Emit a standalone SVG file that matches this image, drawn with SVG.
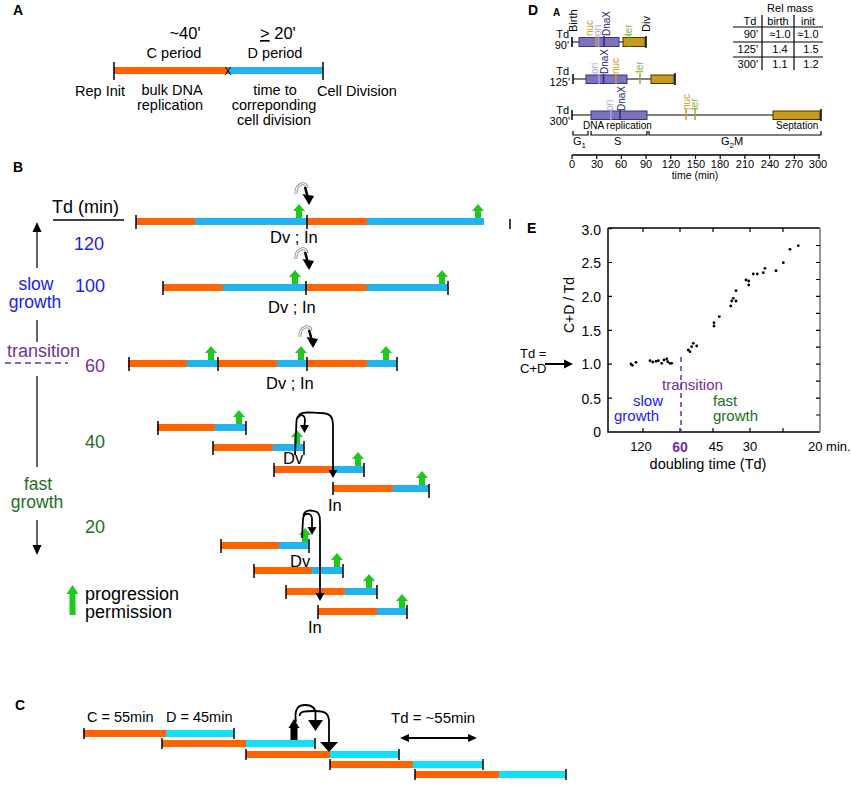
<svg xmlns="http://www.w3.org/2000/svg" width="851" height="786" viewBox="0 0 851 786">
<style>
text{font-family:"Liberation Sans",Arial,sans-serif;fill:#000}
.o{fill:#ff6400}
.b{fill:#22b4f0}
.c{fill:#12e0fa}
.tk{stroke:#000;stroke-width:1.5}
.lbl{font-weight:bold;font-size:14px}
.a{font-size:14.5px}
.bt{font-size:18px}
.dv{font-size:16.5px}
.blu{fill:#2020f0}
.grn{fill:#1e6e1e}
.pur{fill:#7030a0}
.ln{fill:none;stroke:#000;stroke-width:1.8}
.d{font-size:11px}
.mk{font-size:10px}
.pb{fill:#7b73c0;stroke:#3a3478;stroke-width:1}
.gb{fill:#c89a1a;stroke:#4a3500;stroke-width:1}
.e{font-size:14px}
.dot{fill:#000}
</style>
<defs>
<path id="ga" d="M-6 -7 L0 -14 L6 -7 L3 -7 L3 0 L-3 0 L-3 -7 Z" fill="#1ec81e"/>
<g id="curl">
<path d="M-13 -11 C-14 -21 -3 -25 -2 -17" fill="none" stroke="#888" stroke-width="3"/>
<path d="M-13 -11 C-14 -21 -3 -25 -2 -17" fill="none" stroke="#fff" stroke-width="1.2"/>
<path d="M-4 -18 L-1.5 -9" stroke="#000" stroke-width="2.5"/>
<polygon points="-6.5,-11 5,-9 0,0" fill="#000"/>
</g>
</defs>
<rect width="851" height="786" fill="#fff"/>

<!-- Panel A -->
<g id="panelA">
<text class="lbl" x="13" y="15">A</text>
<text x="185" y="39" font-size="16.5" text-anchor="middle">~40'</text>
<text x="260" y="39" font-size="16.5"><tspan text-decoration="underline">&gt;</tspan> 20'</text>
<text class="a" x="174" y="58" text-anchor="middle">C period</text>
<text class="a" x="275" y="58" text-anchor="middle">D period</text>
<rect class="o" x="114" y="67" width="114" height="7"/>
<rect class="b" x="228" y="67" width="95" height="7"/>
<line class="tk" x1="114" y1="62" x2="114" y2="80"/>
<line class="tk" x1="323" y1="62" x2="323" y2="80"/>
<text x="228" y="75" font-size="11" text-anchor="middle">X</text>
<text class="a" x="75" y="96">Rep Init</text>
<text class="a" x="172" y="95" text-anchor="middle">bulk DNA</text>
<text class="a" x="170" y="110" text-anchor="middle">replication</text>
<text class="a" x="275" y="95" text-anchor="middle">time to</text>
<text class="a" x="274" y="110" text-anchor="middle">correponding</text>
<text class="a" x="274" y="125" text-anchor="middle">cell division</text>
<text class="a" x="317" y="96">Cell Division</text>
</g>

<!-- Panel B -->
<g id="panelB-axis">
<text class="lbl" x="13" y="172">B</text>
<text class="bt" x="52" y="213">Td (min)</text>
<line x1="53" y1="220" x2="124" y2="220" stroke="#000" stroke-width="1.5"/>
<line x1="37" y1="230" x2="37" y2="268" stroke="#333" stroke-width="1.5"/>
<polygon points="37,222 32.5,232 41.5,232" fill="#000"/>
<line x1="37" y1="320" x2="37" y2="342" stroke="#333" stroke-width="1.5"/>
<line x1="37" y1="376" x2="37" y2="467" stroke="#333" stroke-width="1.5"/>
<line x1="37" y1="520" x2="37" y2="547" stroke="#333" stroke-width="1.5"/>
<polygon points="37,555 32.5,545 41.5,545" fill="#000"/>
<text class="bt blu" x="104" y="250" text-anchor="end">120</text>
<text class="bt blu" x="105" y="292" text-anchor="end">100</text>
<text class="blu" font-size="17.5" x="36" y="290" text-anchor="middle">slow</text>
<text class="blu" font-size="17.5" x="35" y="308" text-anchor="middle">growth</text>
<text class="bt pur" x="7" y="357">transition</text>
<line x1="5" y1="363" x2="68" y2="363" stroke="#7030a0" stroke-width="1.5" stroke-dasharray="6,4"/>
<text class="bt pur" x="105" y="372" text-anchor="end">60</text>
<text class="bt grn" x="105" y="448" text-anchor="end">40</text>
<text class="grn" font-size="17.5" x="38" y="490" text-anchor="middle">fast</text>
<text class="grn" font-size="17.5" x="37" y="508" text-anchor="middle">growth</text>
<text class="bt grn" x="105" y="533" text-anchor="end">20</text>
</g>

<g id="rowB120">
<rect class="o" x="136" y="218" width="59" height="7"/>
<rect class="b" x="195" y="218" width="112" height="7"/>
<rect class="o" x="307" y="218" width="60" height="7"/>
<rect class="b" x="367" y="218" width="117" height="7"/>
<line class="tk" x1="136" y1="215" x2="136" y2="229"/>
<line class="tk" x1="307" y1="215" x2="307" y2="229"/>
<line class="tk" x1="510" y1="219" x2="510" y2="229"/>
<use href="#ga" x="299" y="218"/>
<use href="#ga" x="478" y="218"/>
<use href="#curl" x="309" y="205"/>
<text class="dv" x="270" y="243">Dv ; In</text>
</g>

<g id="rowB100">
<rect class="o" x="163" y="284" width="60" height="7"/>
<rect class="b" x="223" y="284" width="83" height="7"/>
<rect class="o" x="306" y="284" width="61" height="7"/>
<rect class="b" x="367" y="284" width="81" height="7"/>
<line class="tk" x1="163" y1="281" x2="163" y2="295"/>
<line class="tk" x1="306" y1="281" x2="306" y2="295"/>
<line class="tk" x1="448" y1="281" x2="448" y2="295"/>
<use href="#ga" x="295" y="284"/>
<use href="#ga" x="442" y="284"/>
<use href="#curl" x="309" y="270"/>
<text class="dv" x="268" y="313">Dv ; In</text>
</g>

<g id="rowB60">
<rect class="o" x="128" y="360" width="59" height="7"/>
<rect class="b" x="187" y="360" width="31" height="7"/>
<rect class="o" x="218" y="360" width="59" height="7"/>
<rect class="b" x="277" y="360" width="30" height="7"/>
<rect class="o" x="307" y="360" width="60" height="7"/>
<rect class="b" x="367" y="360" width="30" height="7"/>
<line class="tk" x1="129" y1="357" x2="129" y2="371"/>
<line class="tk" x1="218" y1="357" x2="218" y2="371"/>
<line class="tk" x1="307" y1="357" x2="307" y2="371"/>
<line class="tk" x1="397" y1="357" x2="397" y2="371"/>
<use href="#ga" x="211" y="360"/>
<use href="#ga" x="301" y="360"/>
<use href="#ga" x="386" y="360"/>
<use href="#curl" x="313" y="348"/>
<text class="dv" x="266" y="389">Dv ;  In</text>
</g>

<g id="rowB40">
<rect class="o" x="157" y="424" width="58" height="7"/>
<rect class="b" x="215" y="424" width="31" height="7"/>
<line class="tk" x1="158" y1="421" x2="158" y2="435"/>
<line class="tk" x1="246" y1="421" x2="246" y2="435"/>
<use href="#ga" x="239" y="424"/>
<rect class="o" x="213" y="444" width="60" height="7"/>
<rect class="b" x="273" y="444" width="31" height="7"/>
<line class="tk" x1="213" y1="441" x2="213" y2="455"/>
<line class="tk" x1="304" y1="441" x2="304" y2="455"/>
<use href="#ga" x="297" y="444"/>
<rect class="o" x="274" y="466" width="59" height="7"/>
<rect class="b" x="333" y="466" width="31" height="7"/>
<line class="tk" x1="274" y1="463" x2="274" y2="477"/>
<line class="tk" x1="364" y1="463" x2="364" y2="477"/>
<use href="#ga" x="358" y="466"/>
<rect class="o" x="333" y="485" width="60" height="7"/>
<rect class="b" x="393" y="485" width="36" height="7"/>
<line class="tk" x1="333" y1="482" x2="333" y2="495"/>
<line class="tk" x1="429" y1="484" x2="429" y2="498"/>
<use href="#ga" x="422" y="485"/>
<text class="dv" x="283" y="464">Dv</text>
<text class="dv" x="328" y="511">In</text>
</g>

<g id="rowB20">
<rect class="o" x="221" y="542" width="58" height="7"/>
<rect class="b" x="279" y="542" width="30" height="7"/>
<line class="tk" x1="221" y1="539" x2="221" y2="553"/>
<line class="tk" x1="309" y1="539" x2="309" y2="553"/>
<use href="#ga" x="305" y="542"/>
<rect class="o" x="254" y="567" width="58" height="7"/>
<rect class="b" x="312" y="567" width="31" height="7"/>
<line class="tk" x1="254" y1="564" x2="254" y2="578"/>
<line class="tk" x1="343" y1="564" x2="343" y2="578"/>
<use href="#ga" x="337" y="567"/>
<rect class="o" x="286" y="588" width="59" height="7"/>
<rect class="b" x="345" y="588" width="32" height="7"/>
<line class="tk" x1="286" y1="585" x2="286" y2="599"/>
<line class="tk" x1="377" y1="585" x2="377" y2="599"/>
<use href="#ga" x="369" y="588"/>
<rect class="o" x="318" y="608" width="59" height="7"/>
<rect class="b" x="377" y="608" width="30" height="7"/>
<line class="tk" x1="318" y1="605" x2="318" y2="619"/>
<line class="tk" x1="407" y1="605" x2="407" y2="619"/>
<use href="#ga" x="402" y="608"/>
<text class="dv" x="290" y="567">Dv</text>
<text class="dv" x="308" y="633">In</text>
</g>

<g id="legendB">
<path d="M66.5 594 L72.5 585 L78.5 594 L75.5 594 L75.5 615 L69.5 615 L69.5 594 Z" fill="#1ec81e"/>
<text class="bt" x="85" y="600">progression</text>
<text class="bt" x="85" y="618">permission</text>
</g>

<!-- Panel C -->
<g id="panelC">
<text class="lbl" x="15" y="710">C</text>
<text x="87" y="722" font-size="14.5">C = 55min</text>
<text x="166" y="722" font-size="14.5">D = 45min</text>
<text x="391" y="723" font-size="15">Td = ~55min</text>
<rect class="o" x="83.5" y="730" width="82.5" height="7"/>
<rect class="c" x="166" y="730" width="68" height="7"/>
<line class="tk" x1="84" y1="728" x2="84" y2="739"/>
<line class="tk" x1="234" y1="728" x2="234" y2="739"/>
<rect class="o" x="162" y="740" width="84" height="7"/>
<rect class="c" x="246" y="740" width="69" height="7"/>
<line class="tk" x1="162" y1="738" x2="162" y2="749"/>
<line class="tk" x1="315" y1="738" x2="315" y2="749"/>
<rect class="o" x="246" y="751" width="84" height="7"/>
<rect class="c" x="330" y="751" width="69" height="7"/>
<line class="tk" x1="246" y1="749" x2="246" y2="760"/>
<line class="tk" x1="399" y1="749" x2="399" y2="760"/>
<rect class="o" x="330" y="761" width="83" height="7"/>
<rect class="c" x="413" y="761" width="70" height="7"/>
<line class="tk" x1="330" y1="759" x2="330" y2="770"/>
<line class="tk" x1="483" y1="759" x2="483" y2="770"/>
<rect class="o" x="415" y="771" width="84" height="7"/>
<rect class="c" x="499" y="771" width="67" height="7"/>
<line class="tk" x1="415" y1="769" x2="415" y2="780"/>
<line class="tk" x1="566" y1="769" x2="566" y2="780"/>
<polygon points="294,719 288.5,728 299.5,728" fill="#000"/>
<rect x="290.5" y="727" width="7" height="13" fill="#000"/>
<path class="ln" d="M296 722 C294 709 298 705 305 705 C312 705 315.5 708 315.5 714 L315.5 721"/>
<polygon points="308,720 323,720 315.5,731" fill="#000"/>
<path class="ln" d="M299.5 716 C300 711 305 711 315 711 C326 711 329 714 329 722 L329 742"/>
<polygon points="320,742 338,742 329,752" fill="#000"/>
<line x1="407" y1="738" x2="470" y2="738" stroke="#000" stroke-width="1.8"/>
<polygon points="400,738 409,734 409,742" fill="#000"/>
<polygon points="477,738 468,734 468,742" fill="#000"/>
</g>

<!-- Panel D -->
<g id="panelD">
<text class="lbl" x="528" y="15">D</text>
<text x="553" y="16" font-size="10" font-weight="bold">A</text>
<text class="d" transform="translate(577,32) rotate(-90)">Birth</text>
<text class="d" transform="translate(650,32) rotate(-90)">Div</text>
<text class="d" x="569" y="38" text-anchor="end">Td</text>
<text class="d" x="569" y="49" text-anchor="end">90'</text>
<line x1="572" y1="42" x2="646" y2="42" stroke="#000" stroke-width="1.2"/>
<line class="tk" x1="572" y1="37" x2="572" y2="47"/>
<rect class="pb" x="579" y="37.5" width="40" height="9"/>
<rect class="gb" x="623" y="37.5" width="22" height="9"/>
<line class="tk" x1="646" y1="36" x2="646" y2="48"/>
<line x1="596" y1="36" x2="596" y2="47" stroke="#d49a20" stroke-width="1.5"/>
<line x1="598.5" y1="36" x2="598.5" y2="47" stroke="#a8a4d8" stroke-width="1.5"/>
<line x1="604" y1="36" x2="604" y2="47" stroke="#2a2870" stroke-width="1.5"/>
<line x1="629" y1="35" x2="629" y2="47" stroke="#8ab040" stroke-width="1.5"/>
<text class="mk" transform="translate(593,36) rotate(-90)" style="fill:#d49a20">nuc</text>
<text class="mk" transform="translate(601,36) rotate(-90)" style="fill:#a8a4d8">ori</text>
<text class="mk" transform="translate(610,36) rotate(-90)" style="fill:#2a2870">DnaX</text>
<text class="mk" transform="translate(632,36) rotate(-90)" style="fill:#8ab040">ter</text>
<text class="d" x="569" y="75" text-anchor="end">Td</text>
<text class="d" x="570" y="86" text-anchor="end">125'</text>
<line x1="573" y1="79" x2="675" y2="79" stroke="#000" stroke-width="1.2"/>
<line class="tk" x1="573" y1="74" x2="573" y2="84"/>
<rect class="pb" x="586" y="75" width="41" height="8.5"/>
<rect class="gb" x="651" y="75" width="23" height="8.5"/>
<line class="tk" x1="675" y1="73" x2="675" y2="85"/>
<line x1="599" y1="74" x2="599" y2="84" stroke="#a8a4d8" stroke-width="1.5"/>
<line x1="603.5" y1="74" x2="603.5" y2="84" stroke="#2a2870" stroke-width="1.5"/>
<line x1="616" y1="74" x2="616" y2="84" stroke="#d49a20" stroke-width="1.5"/>
<line x1="640" y1="73" x2="640" y2="84" stroke="#8ab040" stroke-width="1.5"/>
<text class="mk" transform="translate(598,74) rotate(-90)" style="fill:#a8a4d8">ori</text>
<text class="mk" transform="translate(608,74) rotate(-90)" style="fill:#2a2870">DnaX</text>
<text class="mk" transform="translate(619,74) rotate(-90)" style="fill:#d49a20">nuc</text>
<text class="mk" transform="translate(643,73) rotate(-90)" style="fill:#8ab040">ter</text>
<text class="d" x="569" y="114" text-anchor="end">Td</text>
<text class="d" x="570" y="125" text-anchor="end">300'</text>
<line x1="572" y1="115" x2="821" y2="115" stroke="#000" stroke-width="1.2"/>
<line class="tk" x1="572" y1="110" x2="572" y2="120"/>
<rect class="pb" x="591" y="111" width="56" height="8.5"/>
<rect class="gb" x="773" y="111" width="47" height="8.5"/>
<line class="tk" x1="821" y1="109" x2="821" y2="121"/>
<line x1="611" y1="110" x2="611" y2="120" stroke="#a8a4d8" stroke-width="1.5"/>
<line x1="620" y1="110" x2="620" y2="120" stroke="#2a2870" stroke-width="1.5"/>
<line x1="686" y1="109" x2="686" y2="120" stroke="#d49a20" stroke-width="1.5"/>
<line x1="695" y1="109" x2="695" y2="120" stroke="#8ab040" stroke-width="1.5"/>
<text class="mk" transform="translate(613,111) rotate(-90)" style="fill:#a8a4d8">ori</text>
<text class="mk" transform="translate(625,111) rotate(-90)" style="fill:#2a2870">DnaX</text>
<text class="mk" transform="translate(690,110) rotate(-90)" style="fill:#d49a20">nuc</text>
<text class="mk" transform="translate(698,110) rotate(-90)" style="fill:#8ab040">ter</text>
<text x="583" y="129" font-size="10">DNA replication</text>
<text x="776" y="129" font-size="10">Septation</text>
<path d="M573 131 V135 H588 V131 M591 131 V135 H647 V131 M649 131 V135 H821 V131" fill="none" stroke="#000" stroke-width="1.2"/>
<text class="d" x="573" y="145">G<tspan font-size="8" dy="3">1</tspan></text>
<text class="d" x="614" y="145">S</text>
<text class="d" x="721" y="145">G<tspan font-size="8" dy="3">2</tspan><tspan dy="-3">M</tspan></text>
<line x1="572" y1="155" x2="820" y2="155" stroke="#000" stroke-width="1.5"/>
<path d="M572 155 v4 M596.7 155 v4 M621.4 155 v4 M646.1 155 v4 M670.8 155 v4 M695.5 155 v4 M720.2 155 v4 M744.9 155 v4 M769.6 155 v4 M794.3 155 v4 M819 155 v4" stroke="#000" stroke-width="1.2"/>
<g class="d" text-anchor="middle">
<text x="572" y="168">0</text><text x="597" y="168">30</text><text x="621" y="168">60</text><text x="646" y="168">90</text><text x="671" y="168">120</text><text x="696" y="168">150</text><text x="720" y="168">180</text><text x="745" y="168">210</text><text x="770" y="168">240</text><text x="794" y="168">270</text><text x="818" y="168">300</text>
</g>
<text x="695" y="179" font-size="10.5" text-anchor="middle">time (min)</text>
<text class="d" x="790" y="12" text-anchor="middle">Rel mass</text>
<text class="d" x="750" y="25" text-anchor="middle">Td</text>
<text class="d" x="778" y="25" text-anchor="middle">birth</text>
<text class="d" x="808" y="25" text-anchor="middle">init</text>
<line x1="733" y1="27" x2="823" y2="27" stroke="#000" stroke-width="1.2"/>
<line x1="733" y1="42" x2="823" y2="42" stroke="#000" stroke-width="1.2"/>
<line x1="733" y1="57" x2="823" y2="57" stroke="#000" stroke-width="1.2"/>
<line x1="762" y1="15" x2="762" y2="70" stroke="#000" stroke-width="1.2"/>
<line x1="794" y1="15" x2="794" y2="70" stroke="#000" stroke-width="1.2"/>
<text class="d" x="758" y="38" text-anchor="end">90'</text>
<text class="d" x="780" y="38" text-anchor="middle">≈1.0</text>
<text class="d" x="808" y="38" text-anchor="middle">≈1.0</text>
<text class="d" x="758" y="53" text-anchor="end">125'</text>
<text class="d" x="780" y="53" text-anchor="middle">1.4</text>
<text class="d" x="811" y="53" text-anchor="middle">1.5</text>
<text class="d" x="758" y="68" text-anchor="end">300'</text>
<text class="d" x="780" y="68" text-anchor="middle">1.1</text>
<text class="d" x="811" y="68" text-anchor="middle">1.2</text>
</g>

<!-- Panel E -->
<g id="panelE">
<text class="lbl" x="527" y="233">E</text>
<path d="M608 228 H820 M608 228 V432 H820" fill="none" stroke="#000" stroke-width="1.5"/>
<line x1="820" y1="228" x2="820" y2="432" stroke="#777" stroke-width="1.5"/>
<path d="M608 228.6 h4 M608 262.5 h4 M608 296.4 h4 M608 330.3 h4 M608 364.2 h4 M608 398.1 h4" stroke="#000" stroke-width="1.2"/>
<path d="M820 245.5 h-4 M820 262.5 h-4 M820 279.5 h-4 M820 296.4 h-4 M820 313.4 h-4 M820 330.3 h-4 M820 347.2 h-4 M820 364.2 h-4 M820 381.2 h-4 M820 398.1 h-4 M820 415 h-4" stroke="#000" stroke-width="1.2"/>
<path d="M643 228 v4 M680 228 v4 M713 228 v4 M750 228 v4 M783 228 v4 M643 432 v-4 M680 432 v-4 M713 432 v-4 M750 432 v-4 M783 432 v-4" stroke="#000" stroke-width="1.2"/>
<g class="e" text-anchor="end">
<text x="601" y="235">3.0</text><text x="601" y="268">2.5</text><text x="601" y="302">2.0</text><text x="601" y="336">1.5</text><text x="601" y="369">1.0</text><text x="601" y="404">0.5</text><text x="601" y="437">0</text>
</g>
<text class="e" transform="translate(574,305) rotate(-90)" text-anchor="middle">C+D / Td</text>
<g font-size="13" text-anchor="middle">
<text x="641" y="451">120</text><text x="716" y="451">45</text><text x="750" y="451">30</text>
</g>
<text x="680" y="452" font-size="14" font-weight="bold" text-anchor="middle" class="pur">60</text>
<text x="808" y="451" font-size="13">20 min.</text>
<text x="708" y="469" font-size="14.5" text-anchor="middle">doubling time (Td)</text>
<text x="520" y="358" font-size="13">Td =</text>
<text x="520" y="373" font-size="13">C+D</text>
<line x1="545" y1="364" x2="565" y2="364" stroke="#000" stroke-width="2"/>
<polygon points="573,364 564,359.5 564,368.5" fill="#000"/>
<line x1="681" y1="357" x2="681" y2="432" stroke="#7030a0" stroke-width="1.5" stroke-dasharray="5,4"/>
<text x="662" y="390" font-size="15" class="pur">transition</text>
<text x="633" y="406" font-size="15" class="blu">slow</text>
<text x="614" y="421" font-size="15" class="blu">growth</text>
<text x="713" y="406" font-size="15" class="grn">fast</text>
<text x="713" y="421" font-size="15" class="grn">growth</text>
<g class="dot">
<circle cx="631" cy="364" r="1.4"/><circle cx="632.3" cy="365.3" r="1.4"/><circle cx="636" cy="362.3" r="1.4"/>
<circle cx="650" cy="360.7" r="1.4"/><circle cx="652.7" cy="362" r="1.4"/><circle cx="656" cy="361.3" r="1.4"/>
<circle cx="658.3" cy="360.7" r="1.4"/><circle cx="661.7" cy="363.3" r="1.4"/><circle cx="664" cy="360" r="1.4"/>
<circle cx="666.7" cy="359" r="1.4"/><circle cx="667.7" cy="361.7" r="1.4"/><circle cx="670" cy="363.3" r="1.4"/>
<circle cx="671.7" cy="363.3" r="1.4"/><circle cx="688.3" cy="350" r="1.4"/><circle cx="690" cy="351.7" r="1.4"/>
<circle cx="691.7" cy="346.7" r="1.4"/><circle cx="693.3" cy="343.3" r="1.4"/><circle cx="696.7" cy="346" r="1.4"/>
<circle cx="714" cy="322.7" r="1.4"/><circle cx="714" cy="326" r="1.4"/><circle cx="719.3" cy="316.7" r="1.4"/>
<circle cx="730.7" cy="306" r="1.4"/><circle cx="731.7" cy="301" r="1.4"/><circle cx="733.3" cy="298.3" r="1.4"/>
<circle cx="736" cy="301" r="1.4"/><circle cx="736" cy="290.7" r="1.4"/><circle cx="746" cy="280" r="1.4"/>
<circle cx="748.7" cy="281" r="1.4"/><circle cx="748.7" cy="285" r="1.4"/><circle cx="753.3" cy="274" r="1.4"/>
<circle cx="757.3" cy="274" r="1.4"/><circle cx="763.3" cy="272.7" r="1.4"/><circle cx="765" cy="268.3" r="1.4"/>
<circle cx="776" cy="270.7" r="1.4"/><circle cx="783.3" cy="262.7" r="1.4"/><circle cx="790" cy="249.3" r="1.4"/>
<circle cx="798.3" cy="245.7" r="1.4"/>
</g>
</g>

<!-- connectors -->
<g id="connectors">
<path class="ln" d="M295 455 L296.5 421 C297 414 305 413 305 420 L304.5 426"/>
<polygon points="300,425 309,425 304.5,433" fill="#000"/>
<path class="ln" d="M298 418 C299 410 310 413 320 413 C330 413 333 416 333 426 L333 470"/>
<polygon points="328.5,470 337.5,470 333,478" fill="#000"/>
<path class="ln" d="M302 538 L303 519 C303.5 512 312 512 312 519 L312 527"/>
<polygon points="307.5,527 316.5,527 312,535" fill="#000"/>
<path class="ln" d="M303.5 516 C304 509 312 510 317 512 C320 514 320 518 320 525 L320 593"/>
<polygon points="315.5,593 324.5,593 320,601" fill="#000"/>
</g>
</svg>
